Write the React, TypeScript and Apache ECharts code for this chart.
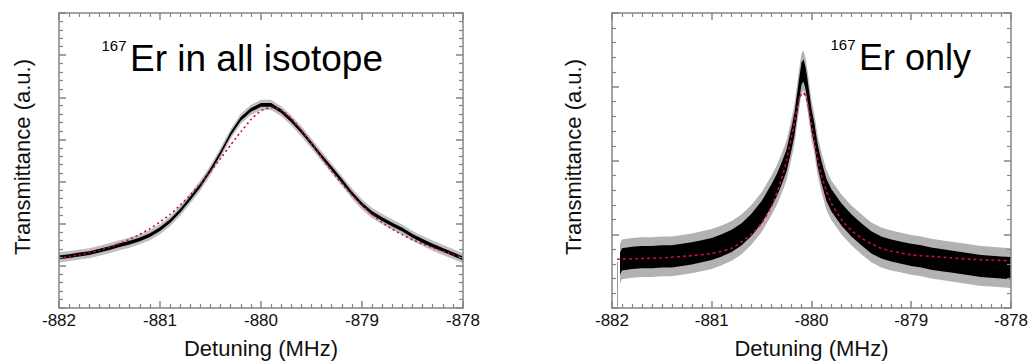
import React, { useEffect, useRef } from "react";
import * as echarts from "echarts";

// ---------- data ----------
const X_MIN = -882;
const X_MAX = -878;

const LEFT_X = [-882.0, -881.9, -881.8, -881.7, -881.6, -881.5, -881.4, -881.3, -881.2, -881.1, -881.0, -880.9, -880.8, -880.7, -880.6, -880.5, -880.4, -880.3, -880.2, -880.1, -880.0, -879.9, -879.8, -879.7, -879.6, -879.5, -879.4, -879.3, -879.2, -879.1, -879.0, -878.9, -878.8, -878.7, -878.6, -878.5, -878.4, -878.3, -878.2, -878.1, -878.0];
const LEFT_DATA = [1.2, 1.23, 1.27, 1.3, 1.36, 1.42, 1.49, 1.55, 1.63, 1.73, 1.87, 2.06, 2.31, 2.6, 2.91, 3.27, 3.68, 4.13, 4.49, 4.7, 4.82, 4.82, 4.67, 4.45, 4.19, 3.9, 3.6, 3.31, 3.02, 2.72, 2.46, 2.25, 2.11, 1.98, 1.86, 1.71, 1.59, 1.48, 1.38, 1.28, 1.18];
const LEFT_FIT = [1.18, 1.22, 1.26, 1.31, 1.37, 1.44, 1.53, 1.63, 1.75, 1.88, 2.04, 2.22, 2.44, 2.68, 2.95, 3.24, 3.55, 3.87, 4.18, 4.47, 4.68, 4.76, 4.7, 4.5, 4.22, 3.9, 3.57, 3.25, 2.95, 2.68, 2.44, 2.22, 2.03, 1.87, 1.74, 1.62, 1.52, 1.43, 1.35, 1.27, 1.2];
const LEFT_CORE_HALF = 0.045;
const LEFT_HALO_HALF = 0.12;

const RIGHT_X = [-881.92, -881.9, -881.8, -881.7, -881.6, -881.5, -881.4, -881.3, -881.2, -881.1, -881.0, -880.9, -880.8, -880.7, -880.6, -880.5, -880.4, -880.35, -880.3, -880.25, -880.2, -880.17, -880.14, -880.12, -880.1, -880.08, -880.06, -880.04, -880.02, -880.0, -879.97, -879.94, -879.9, -879.85, -879.8, -879.7, -879.6, -879.5, -879.4, -879.3, -879.2, -879.1, -879.0, -878.9, -878.8, -878.7, -878.6, -878.5, -878.4, -878.3, -878.2, -878.1, -878.0];
const RIGHT_DATA = [0.6, 0.66, 0.68, 0.69, 0.69, 0.7, 0.7, 0.72, 0.74, 0.77, 0.8, 0.85, 0.91, 1.0, 1.13, 1.3, 1.53, 1.66, 1.82, 2.0, 2.3, 2.5, 2.8, 3.0, 3.18, 3.22, 3.12, 2.95, 2.75, 2.55, 2.35, 2.08, 1.84, 1.6, 1.46, 1.27, 1.12, 1.0, 0.89, 0.82, 0.78, 0.75, 0.72, 0.7, 0.67, 0.65, 0.63, 0.61, 0.59, 0.57, 0.56, 0.55, 0.54];
const RIGHT_FIT_X = [-881.95, -881.5, -881.2, -881.0, -880.8, -880.7, -880.6, -880.5, -880.4, -880.3, -880.25, -880.2, -880.15, -880.12, -880.09, -880.06, -880.03, -880.0, -879.95, -879.9, -879.85, -879.8, -879.7, -879.6, -879.5, -879.4, -879.3, -879.2, -879.1, -879.0, -878.8, -878.6, -878.4, -878.2, -878.0];
const RIGHT_FIT = [0.66, 0.68, 0.71, 0.74, 0.81, 0.9, 1.0, 1.15, 1.38, 1.75, 2.0, 2.32, 2.66, 2.84, 2.92, 2.88, 2.72, 2.5, 2.1, 1.8, 1.58, 1.42, 1.2, 1.05, 0.95, 0.87, 0.81, 0.77, 0.745, 0.72, 0.7, 0.68, 0.66, 0.65, 0.64];
const RIGHT_CORE_HALF = 0.15;
const RIGHT_HALO_HALF = 0.27;
const RIGHT_SPIKE_X = [-881.945, -881.945];
const RIGHT_SPIKE_Y = [0.02, 0.62];

const LEFT_Y_MAX = 7;
const RIGHT_Y_MAX = 4;

const FONT = "Liberation Sans, Arial, Helvetica, sans-serif";
const FRAME = "#858585";
const FIT_COLOR = "#c8102e";

const zip = (xs: number[], ys: number[]) => xs.map((x, i) => [x, ys[i]]);

function bandSeries(xs: number[], ys: number[], half: number, fill: string, axisIndex: number, z: number) {
  return {
    type: "custom",
    xAxisIndex: axisIndex,
    yAxisIndex: axisIndex,
    silent: true,
    z,
    data: [[xs[0], ys[0]]],
    renderItem: (_params: any, api: any) => {
      const pts: number[][] = [];
      for (let i = 0; i < xs.length; i++) pts.push(api.coord([xs[i], ys[i] + half]));
      for (let i = xs.length - 1; i >= 0; i--) pts.push(api.coord([xs[i], ys[i] - half]));
      return { type: "polygon", shape: { points: pts }, style: { fill } };
    },
  };
}

function xAxis(gridIndex: number, position: string, showLabel: boolean) {
  return {
    type: "value",
    gridIndex,
    position,
    min: X_MIN,
    max: X_MAX,
    interval: 1,
    z: 8,
    axisLine: { show: true, onZero: false, lineStyle: { color: FRAME, width: 1.5 } },
    axisTick: { show: true, inside: true, length: 7, lineStyle: { color: FRAME, width: 1.5 } },
    minorTick: { show: true, splitNumber: 10, length: 4, lineStyle: { color: FRAME, width: 1.2 } },
    splitLine: { show: false },
    minorSplitLine: { show: false },
    axisLabel: {
      show: showLabel,
      showMinLabel: true,
      showMaxLabel: true,
      fontSize: 17,
      color: "#111",
      margin: 4,
      fontFamily: FONT,
      formatter: (v: number) => String(v),
    },
    name: showLabel ? "Detuning (MHz)" : "",
    nameLocation: "middle",
    nameGap: 29,
    nameTextStyle: { fontSize: 22, color: "#111", fontFamily: FONT },
  };
}

function yAxis(gridIndex: number, position: string, max: number) {
  return {
    type: "value",
    gridIndex,
    position,
    min: 0,
    max,
    interval: 1,
    z: 8,
    axisLine: { show: true, onZero: false, lineStyle: { color: FRAME, width: 1.5 } },
    axisTick: { show: true, inside: true, length: 7, lineStyle: { color: FRAME, width: 1.5 } },
    minorTick: { show: true, splitNumber: 5, length: 4, lineStyle: { color: FRAME, width: 1.2 } },
    splitLine: { show: false },
    minorSplitLine: { show: false },
    axisLabel: { show: false },
  };
}

function fitSeries(xs: number[], ys: number[], axisIndex: number, dash: number[]) {
  return {
    type: "line",
    xAxisIndex: axisIndex,
    yAxisIndex: axisIndex,
    data: zip(xs, ys),
    showSymbol: false,
    symbol: "none",
    smooth: 0.2,
    silent: true,
    z: 6,
    lineStyle: { color: FIT_COLOR, width: 1.6, type: dash },
  };
}

export default function App() {
  const ref = useRef<HTMLDivElement>(null);

  useEffect(() => {
    document.body.style.margin = "0";
    if (!ref.current) return;
    const chart = echarts.init(ref.current, undefined, { renderer: "svg" });

    const option: any = {
      animation: false,
      backgroundColor: "#ffffff",
      grid: [
        { left: 59, top: 13, width: 404, height: 301, containLabel: false },
        { left: 612, top: 13, width: 404, height: 301, containLabel: false },
      ],
      xAxis: [
        xAxis(0, "bottom", true),
        xAxis(1, "bottom", true),
        xAxis(0, "top", false),
        xAxis(1, "top", false),
      ],
      yAxis: [
        yAxis(0, "left", LEFT_Y_MAX),
        yAxis(1, "left", RIGHT_Y_MAX),
        yAxis(0, "right", LEFT_Y_MAX),
        yAxis(1, "right", RIGHT_Y_MAX),
      ],
      series: [
        bandSeries(LEFT_X, LEFT_DATA, LEFT_HALO_HALF, "rgba(0,0,0,0.25)", 0, 2),
        bandSeries(LEFT_X, LEFT_DATA, LEFT_CORE_HALF, "#000000", 0, 3),
        fitSeries(LEFT_X, LEFT_FIT, 0, [2, 3]),
        bandSeries(RIGHT_X, RIGHT_DATA, RIGHT_HALO_HALF, "rgba(0,0,0,0.3)", 1, 2),
        bandSeries(RIGHT_X, RIGHT_DATA, RIGHT_CORE_HALF, "#000000", 1, 3),
        {
          type: "line",
          xAxisIndex: 1,
          yAxisIndex: 1,
          data: zip(RIGHT_SPIKE_X, RIGHT_SPIKE_Y),
          showSymbol: false,
          symbol: "none",
          silent: true,
          z: 2,
          lineStyle: { color: "#9a9a9a", width: 1 },
        },
        fitSeries(RIGHT_FIT_X, RIGHT_FIT, 1, [3, 3]),
      ],
      graphic: [
        {
          type: "text",
          x: 22,
          y: 157,
          rotation: Math.PI / 2,
          style: { text: "Transmittance (a.u.)", fontSize: 22, fill: "#111", fontFamily: FONT, align: "center", verticalAlign: "middle" },
        },
        {
          type: "text",
          x: 573,
          y: 157,
          rotation: Math.PI / 2,
          style: { text: "Transmittance (a.u.)", fontSize: 22, fill: "#111", fontFamily: FONT, align: "center", verticalAlign: "middle" },
        },
        {
          type: "text",
          x: 101.5,
          y: 45,
          z: 10,
          style: { text: "167", fontSize: 15, fill: "#000", fontFamily: FONT, align: "left", verticalAlign: "middle" },
        },
        {
          type: "text",
          x: 130,
          y: 58.5,
          z: 10,
          style: { text: "Er in all isotope", fontSize: 37, fill: "#000", fontFamily: FONT, align: "left", verticalAlign: "middle" },
        },
        {
          type: "text",
          x: 830.5,
          y: 44.5,
          z: 10,
          style: { text: "167", fontSize: 15, fill: "#000", fontFamily: FONT, align: "left", verticalAlign: "middle" },
        },
        {
          type: "text",
          x: 859,
          y: 57,
          z: 10,
          style: { text: "Er only", fontSize: 36, fill: "#000", fontFamily: FONT, align: "left", verticalAlign: "middle" },
        },
      ],
    };

    chart.setOption(option);
    return () => {
      chart.dispose();
    };
  }, []);

  return <div ref={ref} style={{ width: 1031, height: 364 }} />;
}
